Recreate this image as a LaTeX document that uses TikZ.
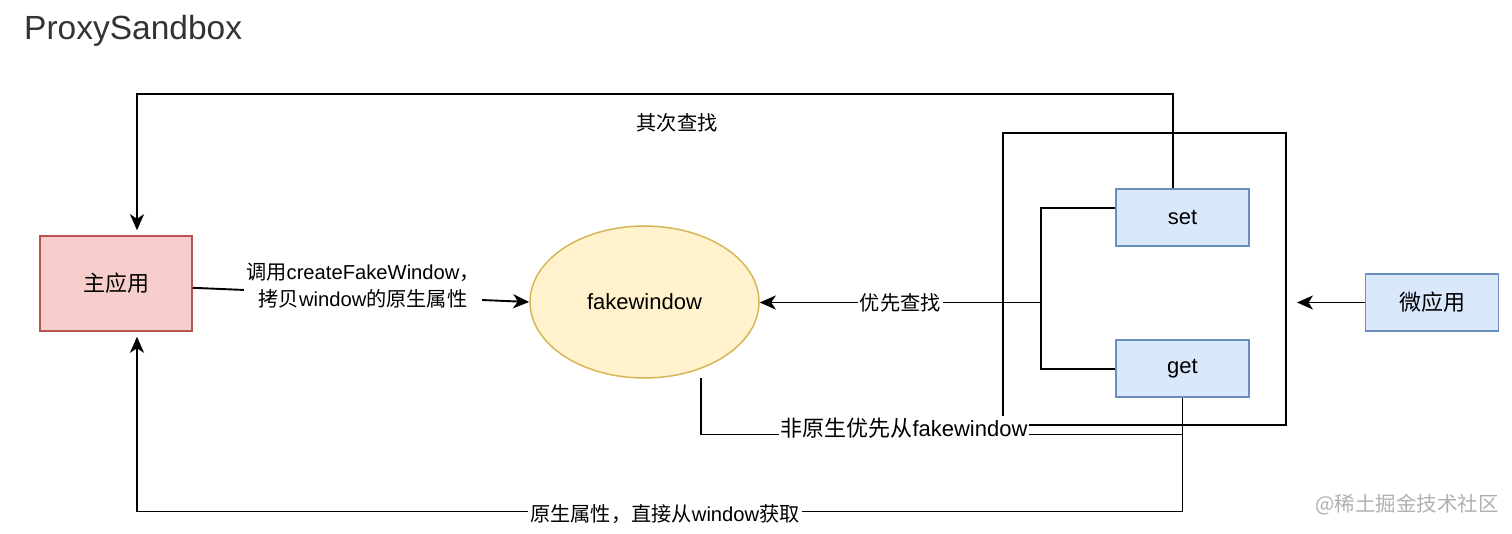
\documentclass[tikz,border=0pt]{standalone}
\usepackage{fontspec}
\setmainfont{Liberation Sans}
\newfontfamily\cjk{Noto Sans CJK SC}
\usetikzlibrary{arrows.meta,shapes.geometric,calc}
\definecolor{redfill}{HTML}{F8CECC}
\definecolor{redline}{HTML}{B85450}
\definecolor{yelfill}{HTML}{FFF2CC}
\definecolor{yelline}{HTML}{D6B656}
\definecolor{bluefill}{HTML}{DAE8FC}
\definecolor{blueline}{HTML}{6C8EBF}
\definecolor{titlegray}{HTML}{333333}
\definecolor{wmgray}{HTML}{B0B0B0}
\newcommand\bxfont{\fontsize{22}{27}\selectfont}
\newcommand\lbfont{\fontsize{20.2}{27}\selectfont}
\tikzset{
  box/.style={draw, line width=1.5pt, inner sep=0pt, font=\bxfont, text=black},
  redbox/.style={box, fill=redfill, draw=redline, minimum width=152pt, minimum height=95pt},
  bluebox/.style={box, fill=bluefill, draw=blueline, minimum width=133pt, minimum height=57pt},
  conn/.style={line width=1.9pt, draw=black},
  arr/.style={conn, -{Stealth[length=16pt,width=14pt,inset=4.5pt]}},
  lbl/.style={fill=white, inner sep=2pt, font=\lbfont, text=black},
}
\begin{document}
\begin{tikzpicture}[x=1pt,y=-1pt]
\useasboundingbox (0,0) rectangle (1512,534);

% title
\node[anchor=base west, inner sep=0pt, text=titlegray, font=\fontsize{33.5}{40}\selectfont] (title) at (24,40) {ProxySandbox};

% nodes
\node[draw, line width=1.9pt, minimum width=283pt, minimum height=292pt, inner sep=0pt] (sandbox) at (1144.5,279) {};
\node[redbox] (main) at (116,283.5) {\cjk 主应用};
\node[ellipse, draw=yelline, fill=yelfill, line width=1.5pt, minimum width=229pt, minimum height=152pt, inner sep=0pt, font=\bxfont] (fw) at (644.5,302) {fakewindow};
\node[bluebox] (set) at (1182.5,217.7) {set};
\node[bluebox] (get) at (1182.5,368.7) {get};
\node[bluebox] (micro) at (1432,302.5) {\cjk 微应用};

\coordinate (junc) at (1041,302.5);
\coordinate (fwtail) at (701,378);
\coordinate (nlev) at (0,434.5);

% connectors
\draw[arr] ([yshift=-4.3pt]main.east) -- (fw.west);
\draw[arr, shorten >=5pt] ([xshift=-9.5pt]set.north) -- ++(0,-94) -| ([xshift=21pt]main.north);
\draw[arr, shorten >=5pt] (get.south) -- ++(0,113.5) -| ([xshift=21pt]main.south);
\draw[conn] ([yshift=9.4pt]set.west) -| (junc);
\draw[conn] (get.west) -| (junc);
\draw[arr] (junc) -- node[lbl] (lfirst) {\cjk 优先查找} (junc -| fw.east);
\draw[arr, shorten >=10pt] (micro.west) -- (micro.west -| sandbox.east);
\draw[conn] (fwtail) |- (get.south |- nlev);

% labels
\node[lbl, align=center] (lcreate) at (363,286) {{\cjk 调用}createFakeWindow{\cjk ，}\\{\cjk 拷贝}window{\cjk 的原生属性}};
\node[lbl] (lsecond) at (677,122.5) {\cjk 其次查找};
\node[lbl] (lnative) at (665,514) {{\cjk 原生属性，直接从}window{\cjk 获取}};
\node[lbl, font=\bxfont] (lnonnat) at (904,428) {{\cjk 非原生优先从}fakewindow};

% watermark
\node[text=wmgray, inner sep=0pt, font=\fontsize{20.5}{24}\selectfont] (wm) at (1407,505) {\cjk @稀土掘金技术社区};
\end{tikzpicture}
\end{document}
